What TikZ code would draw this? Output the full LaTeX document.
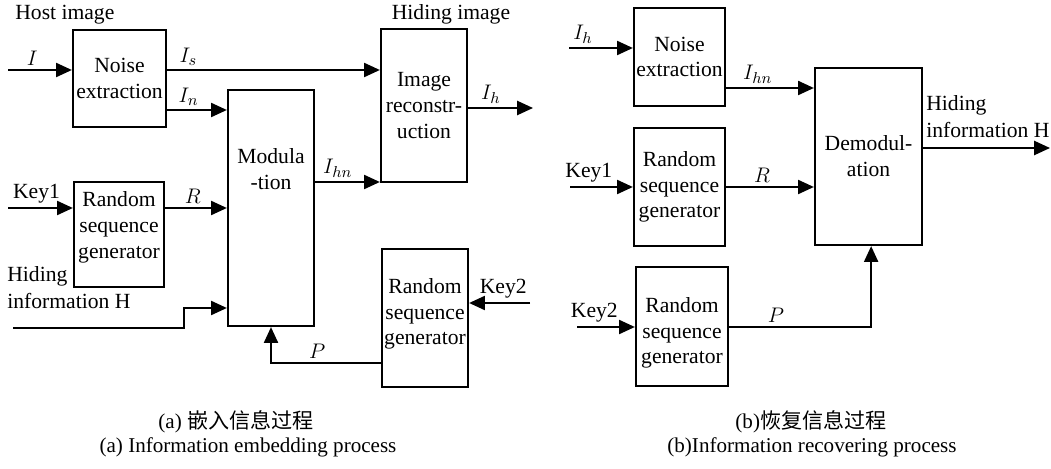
\documentclass[tikz,border=0pt]{standalone}
\usepackage{fontspec}
\setmainfont{Liberation Serif}
\newfontfamily\cjk{Noto Sans CJK SC}
\usetikzlibrary{arrows.meta,positioning,calc}

\begin{document}
\begin{tikzpicture}[
    x=0.02cm, y=-0.02cm,
    >={Triangle[length=9pt,width=8pt]},
    blockbox/.style={draw, line width=1.3pt, inner sep=1pt, align=center,
                     font=\fontsize{12.3}{14.7}\selectfont},
    boxtext/.style={align=center, inner sep=0pt, font=\fontsize{12.3}{14.7}\selectfont},
    arr/.style={->, line width=1.1pt},
    sig/.style={above, inner sep=2pt, font=\fontsize{12.3}{14.7}\selectfont},
    plain/.style={inner sep=0pt, font=\fontsize{12.3}{15.5}\selectfont},
    captext/.style={inner sep=0pt, font=\fontsize{12}{14}\selectfont},
]
\useasboundingbox (0,0) rectangle (1051,469);

% ============ (a) EMBEDDING: BLOCKS ============
\node[blockbox, minimum width=1.86cm, minimum height=1.94cm] (noise1) at (119.5,78.5) {Noise\\extraction};
\node[blockbox, minimum width=1.80cm, minimum height=2.10cm] (rsg1) at (119,234.5) {};
\node[boxtext] (rsg1txt) at ($(rsg1.center)+(0,-7)$) {Random\\sequence\\generator};
\node[blockbox, minimum width=1.72cm, minimum height=4.72cm] (mod) at (271,208) {};
\node[boxtext] (modtxt) at (271,169.5) {Modula\\-tion};
\node[blockbox, minimum width=1.72cm, minimum height=3.06cm] (recon) at (424,105.5) {Image\\reconstr-\\uction};
\node[blockbox, minimum width=1.72cm, minimum height=2.76cm] (rsg2) at (425,318) {};
\node[boxtext] (rsg2txt) at ($(rsg2.center)+(0,-4)$) {Random\\sequence\\generator};

% titles
\node[plain, anchor=west] (host) at (15,15) {Host image};
\node[plain] (hidimg) at (451,14) {Hiding image};
\node[plain, anchor=north west, align=left] (hidinfo) at (7,266) {Hiding\\information H};

% free ends and bend points
\coordinate (inI) at (8,70);
\coordinate (key1a) at (8,208);
\coordinate (inH) at (13,328);
\coordinate (outIh) at (533,108);
\coordinate (key2a) at (530,303);
\coordinate (nOut) at ($(noise1.east)+(0,31.5)$);
\coordinate (mOut) at ($(mod.east)+(0,-26)$);
\coordinate (pOut) at ($(rsg2.west)+(0,45)$);
\coordinate (hIn) at ($(mod.west)+(0,100)$);

% ============ (a) EMBEDDING: CONNECTORS ============
\draw[arr] (inI) -- node[sig, pos=0.38] {$I$} (inI -| noise1.west);
\draw[arr] (noise1.east |- inI) -- node[sig, pos=0.1] {$I_s$} (recon.west |- inI);
\draw[arr] (nOut) -- node[sig, pos=0.36] {$I_n$} (nOut -| mod.west);
\draw[arr] (key1a) -- node[sig, pos=0.44] {Key1} (key1a -| rsg1.west);
\draw[arr] (rsg1.east |- key1a) -- node[sig, pos=0.45] {$R$} (mod.west |- key1a);
\draw[arr] (inH) -- ++(171,0) |- (hIn);
\draw[arr] (mOut) -- node[sig, pos=0.35] {$I_{hn}$} (mOut -| recon.west);
\draw[arr] (outIh -| recon.east) -- node[sig, pos=0.35] {$I_h$} (outIh);
\draw[arr] (key2a) -- node[sig, pos=0.44] {Key2} (key2a -| rsg2.east);
\draw[arr] (pOut) -- node[sig, pos=0.58] {$P$} (pOut -| mod.south) -- (mod.south);

% ============ (b) RECOVERING: BLOCKS ============
\node[blockbox, minimum width=1.82cm, minimum height=1.96cm] (noise2) at (679.5,57) {Noise\\extraction};
\node[blockbox, minimum width=1.82cm, minimum height=2.36cm] (rsg3) at (679.5,187) {Random\\sequence\\generator};
\node[blockbox, minimum width=2.14cm, minimum height=3.54cm] (demod) at (868.5,156.5) {Demodul-\\ation};
\node[blockbox, minimum width=1.84cm, minimum height=2.38cm] (rsg4) at (682,326.5) {};
\node[boxtext] (rsg4txt) at ($(rsg4.center)+(0,6.5)$) {Random\\sequence\\generator};

\node[plain, anchor=north west, align=left] (hidout) at (926,95) {Hiding\\information H};

% free ends and bend points
\coordinate (inIh) at (569,48);
\coordinate (key1b) at (570,187);
\coordinate (key2b) at (577,327);
\coordinate (outH) at (1050,148);
\coordinate (nOutb) at ($(noise2.east)+(0,31)$);
\coordinate (pBend) at ($(rsg4.east |- key2b)+(142,0)$);

% ============ (b) RECOVERING: CONNECTORS ============
\draw[arr] (inIh) -- node[sig, pos=0.22] {$I_h$} (inIh -| noise2.west);
\draw[arr] (nOutb) -- node[sig, pos=0.36] {$I_{hn}$} (nOutb -| demod.west);
\draw[arr] (key1b) -- node[sig, pos=0.3] {Key1} (key1b -| rsg3.west);
\draw[arr] (rsg3.east |- key1b) -- node[sig, pos=0.41] {$R$} (demod.west |- key1b);
\draw[arr] (key2b) -- node[sig, pos=0.3] {Key2} (key2b -| rsg4.west);
\draw[arr] (rsg4.east |- key2b) -- node[sig, pos=0.33] {$P$} (pBend) -- (pBend |- demod.south);
\draw[arr] (demod.east |- outH) -- (outH);

% ============ CAPTIONS ============
\node[captext] (capa1) at (236,422) {(a) {\cjk 嵌入信息过程}};
\node[captext] (capa2) at (248,447) {(a) Information embedding process};
\node[captext] (capb1) at (811,422) {(b){\cjk 恢复信息过程}};
\node[captext] (capb2) at (812,447) {(b)Information recovering process};

\end{tikzpicture}
\end{document}
